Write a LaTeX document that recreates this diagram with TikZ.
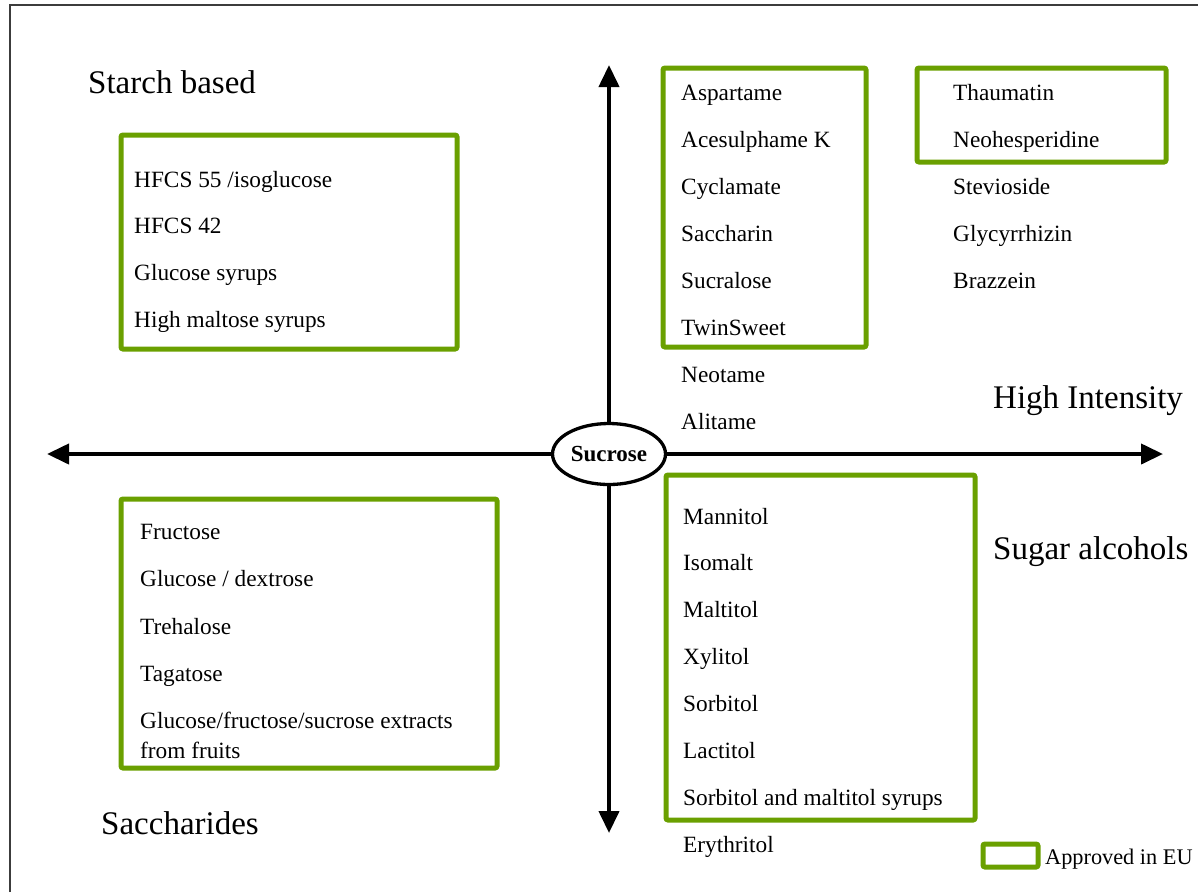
\documentclass[tikz,border=0pt]{standalone}
\usepackage{fontspec}
\setmainfont{Liberation Serif}
\usetikzlibrary{arrows.meta,shapes.geometric}
\definecolor{eugreen}{RGB}{106,160,0}
\newcommand{\itemfont}{\fontsize{23.3}{28}\selectfont}
\newcommand{\bigfont}{\fontsize{33}{38}\selectfont}
\tikzset{
  item/.style={anchor=base west, inner sep=0pt, font=\itemfont},
  biglabel/.style={anchor=base west, inner sep=0pt, font=\bigfont},
  gbox/.style={draw=eugreen, line width=5pt, rounded corners=2pt},
  axis/.style={line width=4pt, -{Triangle[length=22pt,width=20pt]}},
  frameline/.style={line width=2pt, draw={rgb,255:red,60;green,60;blue,60}}
}
\begin{document}
\begin{tikzpicture}[x=1pt,y=-1pt]
\useasboundingbox (0,0) rectangle (1198,892);
\draw[frameline] (10,892) -- (10,5) -- (1198,5);

% axes
\node[ellipse, draw, line width=3.3pt, minimum width=113pt, minimum height=61pt, inner sep=0pt,
      font=\fontsize{23}{27}\selectfont\bfseries] (sucrose) at (609,454) {Sucrose};
\coordinate (lefttip) at (47,454);
\coordinate (righttip) at (1163,454);
\coordinate (toptip) at (609,65);
\coordinate (bottip) at (609,833);
\draw[axis] (sucrose.west) -- (lefttip);
\draw[axis] (sucrose.east) -- (righttip);
\draw[axis] (sucrose.north) -- (toptip);
\draw[axis] (sucrose.south) -- (bottip);

% green boxes
\draw[gbox] (121,135) rectangle (457,349);
\draw[gbox] (663,68) rectangle (866,347);
\draw[gbox] (917,68) rectangle (1166,162);
\draw[gbox] (121,499) rectangle (497,768);
\draw[gbox] (666,475) rectangle (975,820);

% category labels
\node[biglabel] (starch) at (88,93) {Starch based};
\node[biglabel] (high) at (993,408) {High Intensity};
\node[biglabel] (sugalc) at (993,559) {Sugar alcohols};
\node[biglabel] (sacch) at (101,834) {Saccharides};

% starch based
\node[item] (s1) at (134,187) {HFCS 55 /isoglucose};
\node[item] (s2) at (134,233) {HFCS 42};
\node[item] (s3) at (134,280) {Glucose syrups};
\node[item] (s4) at (134,327) {High maltose syrups};

% high intensity column 1
\node[item] (h1) at (681,100) {Aspartame};
\node[item] (h2) at (681,147) {Acesulphame K};
\node[item] (h3) at (681,194) {Cyclamate};
\node[item] (h4) at (681,241) {Saccharin};
\node[item] (h5) at (681,288) {Sucralose};
\node[item] (h6) at (681,335) {TwinSweet};
\node[item] (h7) at (681,382) {Neotame};
\node[item] (h8) at (681,429) {Alitame};

% high intensity column 2
\node[item] (n1) at (953,100) {Thaumatin};
\node[item] (n2) at (953,147) {Neohesperidine};
\node[item] (n3) at (953,194) {Stevioside};
\node[item] (n4) at (953,241) {Glycyrrhizin};
\node[item] (n5) at (953,288) {Brazzein};

% saccharides
\node[item] (c1) at (140,539) {Fructose};
\node[item] (c2) at (140,586) {Glucose / dextrose};
\node[item] (c3) at (140,634) {Trehalose};
\node[item] (c4) at (140,681) {Tagatose};
\node[item] (c5) at (140,728) {Glucose/fructose/sucrose extracts};
\node[item] (c6) at (140,758) {from fruits};

% sugar alcohols
\node[item] (a1) at (683,524) {Mannitol};
\node[item] (a2) at (683,570) {Isomalt};
\node[item] (a3) at (683,617) {Maltitol};
\node[item] (a4) at (683,664) {Xylitol};
\node[item] (a5) at (683,711) {Sorbitol};
\node[item] (a6) at (683,758) {Lactitol};
\node[item] (a7) at (683,805) {Sorbitol and maltitol syrups};
\node[item] (a8) at (683,852) {Erythritol};

% legend
\draw[gbox] (983,844) rectangle (1038,867);
\node[item, font=\fontsize{22.3}{27}\selectfont] (legend) at (1045,864) {Approved in EU};
\end{tikzpicture}
\end{document}
